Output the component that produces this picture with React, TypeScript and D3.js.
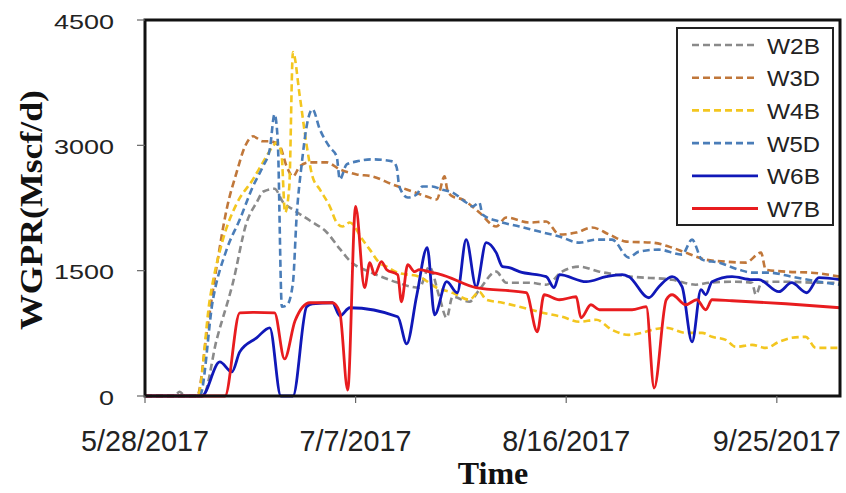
import React from "react";
import * as d3 from "d3";

// Gas production rate per well, [days since 5/28/2017, Mscf/d]
const START_DATE = "5/28/2017";
const END_DATE = "10/7/2017";
const X_TICKS = ["5/28/2017", "7/7/2017", "8/16/2017", "9/25/2017"];
const Y_TICKS = [0, 1500, 3000, 4500];
const WELLS = ["W2B", "W3D", "W4B", "W5D", "W6B", "W7B"];

const W2B: [number, number][] = [
  [0, 0], [5.5, 0], [6.6, 50], [7.6, 0], [11, 0], [13.6, 672], [16.7, 1356], [19.3, 2076],
  [21.2, 2316], [22.5, 2448], [24.6, 2480], [26.2, 2320], [28.1, 2232], [31.3, 2100],
  [34.5, 1960], [37, 1760], [39.2, 1600], [42.1, 1500], [44.9, 1428], [47.8, 1360],
  [52.1, 1296], [54, 1548], [55.9, 1188], [57.3, 936], [58.4, 1188], [61.6, 1128],
  [63.5, 1272], [66.7, 1488], [68.6, 1356], [73, 1356], [76.2, 1332], [79.2, 1488],
  [82.5, 1548], [86.3, 1488], [92.5, 1428], [100.1, 1392], [104.6, 1332], [107.1, 1356],
  [112.2, 1368], [115.3, 1356], [116, 1212], [117.2, 1368], [121.7, 1368], [128, 1356],
  [132, 1356],
];

const W3D: [number, number][] = [
  [0, 0], [9.9, 0], [11.8, 792], [13.6, 1548], [15.5, 2232], [17.4, 2676], [19, 2988],
  [20.5, 3108], [22.4, 3048], [23.7, 3048], [25.6, 2988], [26.9, 2748], [28.1, 2628],
  [29.4, 2748], [31.3, 2796], [34.5, 2796], [37, 2712], [40.2, 2652], [43.2, 2628],
  [47, 2532], [49.7, 2472], [53.5, 2388], [55.4, 2352], [56.9, 2628], [57.4, 2472],
  [58.4, 2388], [60.3, 2352], [63.5, 2196], [66.7, 2028], [68.6, 2136], [73, 2076],
  [76.2, 2088], [78.7, 1932], [81.9, 1956], [84.9, 2016], [88.2, 1932], [91.4, 1848],
  [96.3, 1836], [100.1, 1776], [102.7, 1716], [106.5, 1632], [110.3, 1608], [114.1, 1596],
  [117, 1716], [117.9, 1512], [121.7, 1488], [126.6, 1476], [132, 1428],
];

const W4B: [number, number][] = [
  [0, 0], [10, 0], [12.3, 1152], [14.8, 1872], [17.4, 2300], [20.5, 2592], [22.4, 2796],
  [24.3, 2988], [25, 3036], [25.9, 2916], [26.6, 2196], [27.4, 2500], [28.1, 4116],
  [29.4, 3588], [30.7, 3000], [31.8, 2628], [33.2, 2472], [35.1, 2268], [36.4, 2076],
  [37.5, 2028], [38.9, 2076], [41.3, 1872], [42.7, 1752], [44.5, 1596], [45.9, 1548],
  [48, 1476], [52.1, 1428], [55.4, 1296], [58.4, 1236], [61.6, 1152], [63.5, 1248],
  [64.8, 1152], [67.9, 1116], [71.1, 1068], [75.5, 996], [79.2, 948], [82.5, 888],
  [85.7, 912], [88.7, 792], [91.9, 732], [94.4, 756], [96.3, 792], [99, 816], [102.7, 756],
  [105.8, 756], [107.7, 708], [110.3, 672], [112.2, 588], [115.3, 612], [117.9, 576],
  [120.4, 648], [122.8, 696], [125.5, 708], [127.4, 576], [132, 576],
];

const W5D: [number, number][] = [
  [0, 0], [10.4, 0], [12.9, 1152], [15.5, 1752], [18, 2112], [20.5, 2508], [22.4, 2748],
  [23.7, 2952], [24.6, 3372], [25.2, 3072], [26, 1068], [27, 1090], [28.1, 1356],
  [28.8, 2148], [29.8, 2796], [30.7, 3228], [31.8, 3432], [33.2, 3192], [35.1, 2976],
  [36.4, 2868], [37, 2592], [38.3, 2772], [40.2, 2808], [43.2, 2832], [47, 2808],
  [47.8, 2736], [48.3, 2508], [49.9, 2376], [51.6, 2412], [52.7, 2508], [54.6, 2508],
  [56.3, 2472], [58.4, 2436], [61, 2316], [62.2, 2268], [63.5, 2316], [64.1, 2172],
  [67.3, 2088], [71.1, 2028], [74.9, 1968], [78.7, 1908], [82.5, 1836], [85.7, 1872],
  [88.7, 1872], [91.9, 1656], [93.8, 1728], [97.6, 1752], [102, 1692], [103.9, 1872],
  [105.8, 1632], [109, 1596], [112.8, 1512], [115.3, 1476], [118.5, 1476], [122.8, 1428],
  [128, 1368], [132, 1332],
];

const W6B: [number, number][] = [
  [0, 0], [10.8, 0], [14.2, 408], [16.5, 288], [18, 528], [21.2, 696], [23.7, 816],
  [25.8, 0], [28.1, 0], [30.7, 1068], [31.8, 1104], [35.6, 1116], [37, 960], [38.9, 1056],
  [48, 948], [49.7, 624], [51.6, 1200], [53.6, 1776], [55, 972], [57.3, 1368], [59.3, 1236],
  [61, 1872], [62.9, 1308], [64.8, 1836], [66.7, 1716], [67.9, 1548], [69.2, 1536],
  [71.1, 1488], [76.2, 1428], [77.7, 1296], [78.7, 1452], [83.8, 1368], [87.6, 1428],
  [90.6, 1452], [91.9, 1428], [95.7, 1176], [97.6, 1308], [100.1, 1428], [102, 1308],
  [103.9, 648], [105.6, 1272], [106.5, 1212], [107.7, 1368], [111.5, 1428], [115.3, 1392],
  [116.6, 1392], [120.4, 1248], [122.8, 1356], [125.7, 1236], [128, 1416], [132, 1392],
];

const W7B: [number, number][] = [
  [0, 0], [15.2, 0], [18, 996], [20.5, 1000], [24.6, 996], [26.5, 444], [28.5, 900],
  [31.3, 1116], [35.6, 1116], [37, 1000], [38.5, 72], [40, 2268], [41.7, 1296],
  [42.7, 1596], [43.6, 1452], [44.9, 1608], [45.9, 1512], [48, 1452], [48.7, 1128],
  [49.9, 1572], [51.2, 1488], [52.1, 1512], [54.6, 1476], [55.9, 1460], [62.9, 1296],
  [72.4, 1236], [74.5, 768], [75.8, 1212], [78.7, 1152], [81.9, 1188], [82.8, 936],
  [84.7, 1092], [86.3, 1032], [92.5, 1032], [95.2, 1068], [96.7, 96], [99, 1152],
  [100.1, 1212], [102.7, 1092], [104.8, 1152], [106.5, 1032], [107.7, 1152],
  [111.5, 1140], [121.7, 1104], [132, 1056],
];

const SERIES = [W2B, W3D, W4B, W5D, W6B, W7B];
const COLORS = ["#8a8a8a", "#c0773a", "#f3c61f", "#4a7db8", "#1018b8", "#e81c1f"];
const DASHED = [true, true, true, true, false, false];

const W = 846;
const H = 493;
const M = { left: 145, right: 840, top: 20, bottom: 396 };

const parse = d3.timeParse("%m/%d/%Y");
const start = parse(START_DATE) as Date;
const end = parse(END_DATE) as Date;
const DAY_MS = 86400000;
const toDate = (d: number) => new Date(start.getTime() + d * DAY_MS);

const x = d3.scaleTime().domain([start, end]).range([M.left, M.right]);
const y = d3.scaleLinear().domain([0, 4500]).range([M.bottom, M.top]);

const line = d3
  .line<[number, number]>()
  .x((d) => x(toDate(d[0])))
  .y((d) => y(d[1]))
  .curve(d3.curveMonotoneX);

const xLabelWidth = (s: string) => {
  const digits = s.replace(/\//g, "").length;
  const slashes = s.length - digits;
  return digits * 16 + slashes * 8;
};

export default function App() {
  const legendX = 677;
  const legendY = 28;
  const legendRow = 32.7;
  return (
    <svg
      width={W}
      height={H}
      style={{ position: "absolute", left: 0, top: 0, background: "#fff" }}
    >
      <rect x={0} y={0} width={W} height={H} fill="#fff" />

      {/* series */}
      <g fill="none" strokeLinejoin="round">
        {SERIES.map((s, i) => (
          <path
            key={WELLS[i]}
            d={line(s) ?? ""}
            stroke={COLORS[i]}
            strokeWidth={DASHED[i] ? 2.6 : 2.8}
            strokeDasharray={DASHED[i] ? "7 4" : undefined}
          />
        ))}
      </g>

      {/* plot frame */}
      <rect
        x={M.left}
        y={M.top}
        width={M.right - M.left}
        height={M.bottom - M.top}
        fill="none"
        stroke="#111"
        strokeWidth={3}
      />

      {/* y axis */}
      <g>
        {Y_TICKS.map((v) => (
          <g key={v}>
            <line x1={M.left - 8} x2={M.left} y1={y(v)} y2={y(v)} stroke="#666" strokeWidth={1.2} />
            <text
              x={114}
              y={y(v) + 1}
              textAnchor="end"
              dominantBaseline="central"
              fontFamily="'Liberation Sans', Arial, sans-serif"
              fontSize={21}
              fill="#222"
              textLength={String(v).length * 15}
              lengthAdjust="spacingAndGlyphs"
            >
              {v}
            </text>
          </g>
        ))}
      </g>

      {/* x axis */}
      <g>
        {X_TICKS.map((t) => {
          const px = x(parse(t) as Date);
          return (
            <g key={t}>
              <line x1={px} x2={px} y1={M.bottom} y2={M.bottom + 7} stroke="#666" strokeWidth={1.2} />
              <text
                x={px}
                y={451}
                textAnchor="middle"
                fontFamily="'Liberation Sans Narrow', 'Arial Narrow', 'Liberation Sans', sans-serif"
                fontSize={30}
                fill="#222"
                textLength={xLabelWidth(t)}
                lengthAdjust="spacingAndGlyphs"
              >
                {t}
              </text>
            </g>
          );
        })}
      </g>

      {/* axis titles */}
      <text
        x={493}
        y={484}
        textAnchor="middle"
        fontFamily="'Liberation Serif', 'Times New Roman', serif"
        fontWeight="bold"
        fontSize={32}
        fill="#111"
      >
        Time
      </text>
      <text
        transform={`translate(42, 210) rotate(-90)`}
        textAnchor="middle"
        fontFamily="'Liberation Serif', 'Times New Roman', serif"
        fontWeight="bold"
        fontSize={32}
        fill="#111"
        textLength={240}
        lengthAdjust="spacingAndGlyphs"
      >
        WGPR(Mscf/d)
      </text>

      {/* legend */}
      <rect
        x={legendX}
        y={legendY}
        width={156}
        height={197}
        fill="#fff"
        stroke="#222"
        strokeWidth={2}
      />
      {WELLS.map((w, i) => {
        const cy = legendY + 17 + i * legendRow;
        return (
          <g key={w}>
            <line
              x1={legendX + 15}
              x2={legendX + 81}
              y1={cy}
              y2={cy}
              stroke={COLORS[i]}
              strokeWidth={DASHED[i] ? 2.6 : 2.8}
              strokeDasharray={DASHED[i] ? "7 4" : undefined}
            />
            <text
              x={legendX + 90}
              y={cy + 1}
              dominantBaseline="central"
              fontFamily="'Liberation Sans', Arial, sans-serif"
              fontSize={22}
              fill="#222"
              textLength={53}
              lengthAdjust="spacingAndGlyphs"
            >
              {w}
            </text>
          </g>
        );
      })}
    </svg>
  );
}
